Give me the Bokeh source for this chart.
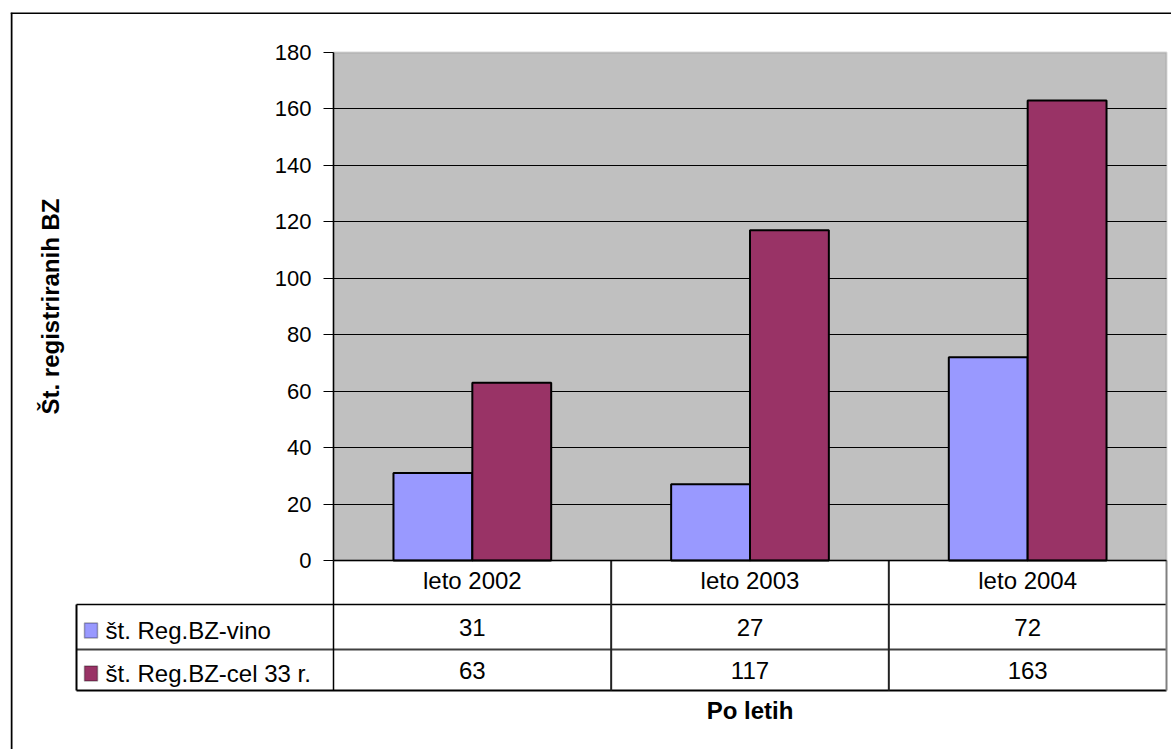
from bokeh.plotting import figure
from bokeh.models import (Range1d, Label, BoxAnnotation, FixedTicker, ColumnDataSource)
from bokeh.core.properties import value
from bokeh.transform import dodge
from bokeh.embed import file_html
from bokeh.resources import INLINE

# ---- data ----
categories = ["leto 2002", "leto 2003", "leto 2004"]
series_names = ["št. Reg.BZ-vino", "št. Reg.BZ-cel 33 r."]
vino = [31, 27, 72]
cel = [63, 117, 163]
y_ticks = [0, 20, 40, 60, 80, 100, 120, 140, 160, 180]
y_title = "Št. registriranih BZ"
x_title = "Po letih"
colors = ["#9999FF", "#993366"]

FONT = "Liberation Sans"

# ---- layout (canvas pixels) ----
FRAME_L, FRAME_T, FRAME_R, FRAME_B = 10, 12, 1171, 749   # outer chart area
PLOT_L, PLOT_R, PLOT_T, PLOT_B = 333, 1166, 52, 560       # grey plot area
T_LEFT = 76                                              # data table left edge
ROW_Y = [604, 649, 690]                                  # table row boundaries

ncat = len(categories)
ymax = y_ticks[-1]
sx = (PLOT_R - PLOT_L) / ncat
sy = (PLOT_B - PLOT_T) / ymax


def X(px):
    return (px - PLOT_L) / sx


def Y(py):
    return (PLOT_B - py) / sy


p = figure(x_range=Range1d(X(FRAME_L), X(FRAME_R)),
           y_range=Range1d(Y(FRAME_B), Y(FRAME_T)),
           frame_width=FRAME_R - FRAME_L, frame_height=FRAME_B - FRAME_T,
           min_border_left=FRAME_L, min_border_right=0,
           min_border_top=FRAME_T, min_border_bottom=0,
           output_backend="svg", toolbar_location=None)

p.background_fill_color = "white"
p.border_fill_color = "white"
p.outline_line_color = None

# outer chart border (left and top edges visible in the window)
p.segment(x0=[X(11), X(FRAME_L)], x1=[X(11), X(FRAME_R)],
          y0=[Y(FRAME_T), Y(12.5)], y1=[Y(FRAME_B), Y(12.5)],
          line_color="black", line_width=2)

# grey plot area
p.add_layout(BoxAnnotation(left=0, right=ncat, bottom=0, top=ymax, level="image",
                           fill_color="#C0C0C0", fill_alpha=1,
                           line_color="#808080", line_width=2))

# gridlines
grid = p.ygrid[0]
grid.ticker = FixedTicker(ticks=y_ticks[1:-1])
grid.grid_line_color = "black"
grid.grid_line_width = 1
try:
    grid.cross_bounds = (0, ncat)
except Exception:
    grid.visible = False
    p.segment(x0=[0] * (len(y_ticks) - 2), x1=[ncat] * (len(y_ticks) - 2),
              y0=y_ticks[1:-1], y1=y_ticks[1:-1], line_color="black", line_width=1,
              level="underlay")
p.xgrid.visible = False

# bars
xc = [i + 0.5 for i in range(ncat)]
src = ColumnDataSource(dict(xc=xc, vino=vino, cel=cel))
p.vbar(x=dodge("xc", -0.142), top="vino", width=0.284, source=src,
       fill_color=colors[0], line_color="black", line_width=2)
p.vbar(x=dodge("xc", 0.142), top="cel", width=0.284, source=src,
       fill_color=colors[1], line_color="black", line_width=2)

# y axis
ya = p.yaxis[0]
ya.fixed_location = 0
ya.bounds = (0, ymax)
ya.ticker = FixedTicker(ticks=y_ticks)
ya.axis_line_color = "black"
ya.axis_line_width = 1.5
ya.major_tick_out = 10
ya.major_tick_in = 0
ya.minor_tick_out = 0
ya.minor_tick_in = 0
ya.major_label_standoff = 12
ya.major_label_text_font = FONT
ya.major_label_text_font_size = "22px"
ya.major_label_text_color = "black"
ya.axis_label = y_title
ya.axis_label_text_font = FONT
ya.axis_label_text_font_style = "bold"
ya.axis_label_text_font_size = "24px"
ya.axis_label_text_color = "black"
ya.axis_label_standoff = 208

# x axis: category names in the table header row
xa = p.xaxis[0]
xa.fixed_location = 0
xa.bounds = (0, ncat)
xa.ticker = FixedTicker(ticks=xc)
xa.major_label_overrides = {x: c for x, c in zip(xc, categories)}
xa.axis_line_color = "black"
xa.axis_line_width = 1.5
xa.major_tick_out = 0
xa.major_tick_in = 0
xa.minor_tick_out = 0
xa.minor_tick_in = 0
xa.major_label_standoff = 6
xa.major_label_text_font = FONT
xa.major_label_text_font_size = "24px"
xa.major_label_text_color = "black"
xa.axis_label = x_title
xa.axis_label_text_font = FONT
xa.axis_label_text_font_style = "bold"
xa.axis_label_text_font_size = "24px"
xa.axis_label_text_color = "black"
xa.axis_label_standoff = 100

# ---- data table grid ----
x_left = X(T_LEFT)
y_rows = [Y(r) for r in ROW_Y]
p.segment(x0=[x_left] * 3, x1=[ncat] * 3, y0=y_rows, y1=y_rows,
          line_color=["black", "#404040", "black"], line_width=[1.5, 2, 2])
p.segment(x0=[x_left], x1=[x_left], y0=[y_rows[0]], y1=[y_rows[-1]],
          line_color="black", line_width=2)
p.segment(x0=list(range(0, ncat + 1)), x1=list(range(0, ncat + 1)),
          y0=[0] * (ncat + 1), y1=[y_rows[-1]] * (ncat + 1),
          line_color=["black"] + ["#222222"] * (ncat - 1) + ["#808080"],
          line_width=[1.5] + [2] * ncat)

# legend keys + names, and the values
series_vals = [vino, cel]
row_centers = [(ROW_Y[0] + ROW_Y[1]) / 2, (ROW_Y[1] + ROW_Y[2]) / 2]
for r, (name, vals, col) in enumerate(zip(series_names, series_vals, colors)):
    yc = row_centers[r]
    p.add_layout(BoxAnnotation(left=84, right=97, top=yc - 4, bottom=yc + 11,
                               left_units="canvas", right_units="canvas",
                               top_units="canvas", bottom_units="canvas",
                               fill_color=col, fill_alpha=1, line_color="black", line_width=1.5))
    p.add_layout(Label(x=105, y=yc + 3, x_units="canvas", y_units="canvas", text=name,
                       text_font=FONT, text_font_size="24px", text_color="black",
                       text_align="left", text_baseline="middle"))
    vsrc = ColumnDataSource(dict(x=xc, yy=[Y(yc)] * ncat, txt=[str(v) for v in vals]))
    p.text(x="x", y="yy", text="txt", source=vsrc,
           text_font=value(FONT), text_font_size=value("24px"), text_color="black",
           text_align="center", text_baseline="middle")

open("out.html", "w").write(file_html(p, INLINE))
